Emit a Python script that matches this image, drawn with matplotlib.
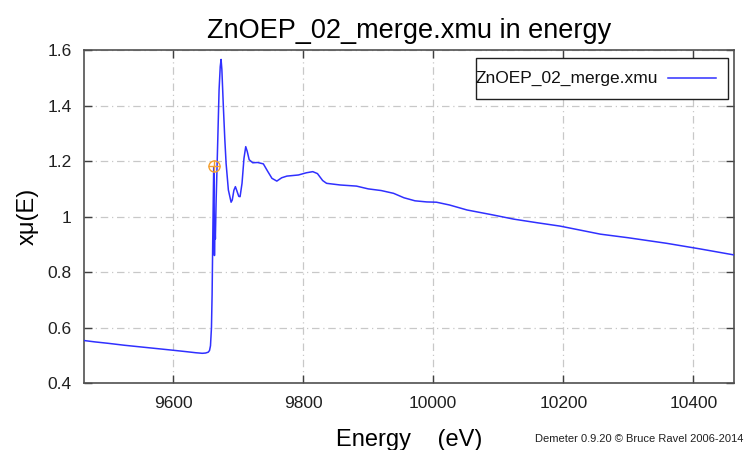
import matplotlib
matplotlib.use("Agg")
import matplotlib.pyplot as plt
from matplotlib.ticker import FuncFormatter
from matplotlib.patches import Rectangle
from matplotlib.lines import Line2D

plt.rcParams['font.family'] = ['Liberation Sans', 'DejaVu Sans']

# Absorption spectrum across the Zn K edge
energy = [9463, 9480, 9500, 9525, 9550, 9575, 9600, 9620, 9635, 9645,
          9650, 9654, 9656, 9657.5, 9659, 9660, 9661, 9662, 9662.5, 9663,
          9663.6, 9664.2, 9665, 9666.1, 9668.7, 9670.7, 9672.5, 9673.8, 9675, 9677.3,
          9679.5, 9681.5, 9685, 9689.2, 9691, 9693.5, 9695.8, 9698.5, 9701, 9703,
          9706, 9709, 9711.7, 9714, 9717, 9722.5, 9730, 9738.8, 9745, 9752,
          9759.5, 9767, 9775, 9792.7, 9805, 9814.8, 9822, 9830, 9836, 9857,
          9882, 9900, 9920, 9939, 9955, 9972, 9990, 10005, 10025, 10052,
          10090, 10124, 10160, 10195, 10225, 10257, 10300, 10359, 10410, 10463]
xmu = [0.554, 0.549, 0.544, 0.537, 0.531, 0.525, 0.519, 0.514, 0.510, 0.508,
       0.509, 0.512, 0.518, 0.535, 0.600, 0.720, 0.920, 1.100, 1.180, 1.120,
       0.860, 0.980, 0.920, 1.050, 1.276, 1.456, 1.540, 1.566, 1.530, 1.396,
       1.280, 1.192, 1.096, 1.052, 1.060, 1.095, 1.108, 1.090, 1.073, 1.072,
       1.120, 1.210, 1.252, 1.235, 1.205, 1.194, 1.195, 1.190, 1.165, 1.138,
       1.128, 1.140, 1.146, 1.150, 1.158, 1.162, 1.155, 1.130, 1.120, 1.114,
       1.110, 1.100, 1.094, 1.084, 1.068, 1.057, 1.053, 1.052, 1.042, 1.024,
       1.007, 0.991, 0.978, 0.966, 0.952, 0.937, 0.924, 0.904, 0.884, 0.862]

e0 = 9662.5
e0_xmu = 1.182

x_ticks = [9600, 9800, 10000, 10200, 10400]
y_ticks = [0.4, 0.6, 0.8, 1.0, 1.2, 1.4, 1.6]

series_name = 'ZnOEP_02_merge.xmu'
line_color = '#3030ff'

W, H = 744, 450
fig = plt.figure(figsize=(W / 100, H / 100), dpi=100)
ax = fig.add_axes([84 / W, 1 - 383.3 / H, (734.3 - 84) / W, (383.3 - 50) / H])

ax.plot(energy, xmu, color=line_color, lw=1.1, zorder=3)
ax.plot([e0], [e0_xmu], marker='o', ms=8, mfc='none', mec='#f5a030', mew=1.0, zorder=4)
ax.plot([e0], [e0_xmu], marker='+', ms=8, mec='#f5a030', mew=1.0, zorder=4)

ax.set_xlim(9463, 10463)
ax.set_ylim(0.4, 1.6)
ax.set_xticks(x_ticks)
ax.set_yticks(y_ticks)
ax.yaxis.set_major_formatter(FuncFormatter(lambda v, p: '%g' % v))

ax.grid(True, color='#c8c8c8', lw=0.9, linestyle=(0, (6, 3, 1, 3)))
ax.tick_params(direction='in', length=6, width=1.0, color='#404040',
               top=True, right=True, labelsize=12.5, labelcolor='#202020', pad=9)
for s in ax.spines.values():
    s.set_color('#505050')
    s.set_linewidth(1.2)

ax.set_title('ZnOEP_02_merge.xmu in energy', fontsize=19.5, pad=9)
ax.set_xlabel('Energy    (eV)', fontsize=17, labelpad=13)
ax.set_ylabel('xμ(E)', fontsize=17, labelpad=6)

# Key box in the upper right corner (gnuplot style: text first, then sample line)
def px(x, y):
    return x / W, 1 - y / H

bx0, by0 = px(476, 99)
bx1, by1 = px(728, 58)
fig.add_artist(Rectangle((bx0, by0), bx1 - bx0, by1 - by0, transform=fig.transFigure,
                         fill=True, facecolor='white', edgecolor='#202020', lw=1.0, zorder=5))
tx, ty = px(475, 78.5)
fig.text(tx, ty, series_name, fontsize=12.5, ha='left', va='center', color='#101010', zorder=6)
lx0, ly = px(668, 78)
lx1, _ = px(716, 78)
fig.add_artist(Line2D([lx0, lx1], [ly, ly], transform=fig.transFigure,
                      color=line_color, lw=1.1, zorder=6))

fig.text(743 / W, 1 - 439 / H, 'Demeter 0.9.20 © Bruce Ravel 2006-2014',
         fontsize=8, ha='right', va='center', color='#202020')

fig.savefig('out.png', dpi=100)
